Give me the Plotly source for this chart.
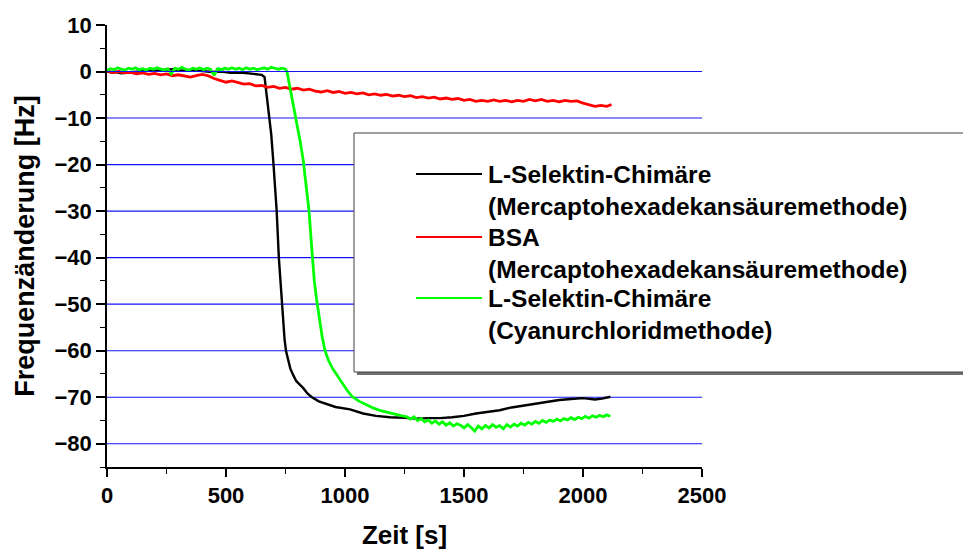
import plotly.graph_objects as go

# --- Frequenzänderung über Zeit, drei Messreihen ---

# L-Selektin-Chimäre (Mercaptohexadekansäuremethode)
t_black = [0, 20, 40, 60, 80, 100, 130, 160, 200, 240, 280, 320, 360, 400, 440, 480,
           520, 560, 600, 630, 650, 662, 670, 680, 690, 699, 705, 713, 722, 729, 735,
           740, 746, 752, 760, 770, 782, 795, 810, 824, 842, 861, 890, 924, 960, 1021,
           1076, 1130, 1189, 1250, 1300, 1350, 1400, 1450, 1500, 1550, 1600, 1650, 1700,
           1750, 1800, 1850, 1900, 1950, 2000, 2050, 2080, 2115]
f_black = [0.0, -0.2, -0.1, -0.4, -0.3, -0.2, -0.1, 0.2, 0.1, 0.4, 0.5, 0.2, 0.3, 0.1,
           -0.1, 0.0, -0.3, -0.2, -0.4, -0.5, -0.7, -1.2, -4.5, -8.8, -13.5, -19.5, -24.0,
           -30.0, -40.0, -45.0, -49.5, -54.0, -57.5, -60.0, -62.0, -63.8, -65.2, -66.5,
           -67.3, -68.0, -69.2, -70.0, -70.9, -71.5, -72.1, -72.6, -73.5, -74.0, -74.3,
           -74.4, -74.6, -74.5, -74.5, -74.3, -74.0, -73.5, -73.2, -72.8, -72.2, -71.8,
           -71.5, -71.0, -70.6, -70.4, -70.2, -70.5, -70.3, -69.9]

# BSA (Mercaptohexadekansäuremethode)
t_red = [0, 25, 50, 75, 100, 125, 150, 175, 200, 225, 250, 275, 300, 325, 350, 375, 400,
         425, 450, 475, 500, 525, 550, 575, 600, 625, 650, 675, 700, 725, 750, 775, 800,
         825, 850, 875, 900, 925, 950, 975, 1000, 1025, 1050, 1075, 1100, 1125, 1150,
         1175, 1200, 1225, 1250, 1275, 1300, 1325, 1350, 1375, 1400, 1425, 1450, 1475,
         1500, 1525, 1550, 1575, 1600, 1625, 1650, 1675, 1700, 1725, 1750, 1775, 1800,
         1825, 1850, 1875, 1900, 1925, 1950, 1975, 2000, 2025, 2050, 2075, 2100, 2120]
f_red = [0.1, -0.2, 0.0, -0.3, -0.2, -0.5, -0.3, -0.6, -0.4, -0.7, -0.5, -0.9, -0.7, -1.0,
         -1.2, -0.9, -0.6, -0.9, -1.5, -1.9, -2.3, -2.0, -2.3, -2.7, -2.6, -3.1, -3.0,
         -3.4, -3.2, -3.6, -3.4, -3.8, -3.6, -4.0, -3.8, -4.2, -4.4, -4.1, -4.5, -4.3,
         -4.7, -4.5, -4.8, -4.6, -5.0, -4.8, -5.1, -4.9, -5.3, -5.1, -5.4, -5.2, -5.6,
         -5.4, -5.7, -5.5, -5.9, -5.7, -6.0, -5.8, -6.2, -6.0, -6.4, -6.2, -6.4, -6.1,
         -6.4, -6.2, -6.5, -6.2, -6.4, -6.0, -6.3, -6.0, -6.4, -6.2, -6.5, -6.2, -6.4,
         -6.3, -6.8, -7.2, -7.5, -7.3, -7.5, -7.1]

# L-Selektin-Chimäre (Cyanurchloridmethode)
t_green = [0, 15, 30, 45, 60, 75, 90, 105, 120, 135, 150, 165, 180, 195, 210, 225, 240,
           255, 270, 285, 300, 315, 330, 345, 360, 375, 390, 405, 420, 435, 450, 465, 480,
           495, 510, 525, 540, 555, 570, 585, 600, 615, 630, 645, 660, 675, 690, 705, 720,
           735, 750,
           756, 764, 772, 780, 787, 795, 803, 811, 818, 825, 832, 840, 849, 856, 863, 871,
           882, 893, 904, 916, 930, 945, 966, 990, 1010, 1029, 1060, 1090, 1118, 1150,
           1180, 1210, 1240, 1260,
           1275, 1290, 1305, 1320, 1335, 1350, 1365, 1380, 1395, 1410, 1425, 1440, 1455,
           1470, 1485, 1500, 1515, 1530, 1545, 1560, 1575, 1590, 1605, 1620, 1635, 1650,
           1665, 1680, 1695, 1710, 1725, 1740, 1755, 1770, 1785, 1800, 1815, 1830, 1845,
           1860, 1875, 1890, 1905, 1920, 1935, 1950, 1965, 1980, 1995, 2010, 2025, 2040,
           2055, 2070, 2085, 2100, 2115]
f_green = [0.3, 0.6, 0.4, 0.8, 0.5, 0.3, 0.7, 0.5, 0.8, 0.4, 0.6, 0.3, 0.7, 0.5, 0.8, 0.5,
           0.3, 0.6, -0.5, 0.7, 0.5, 0.9, 0.5, 0.3, 0.7, 0.5, 0.8, 0.4, 0.7, 0.5, -0.8,
           0.6, 0.4, 0.7, 0.5, 0.8, 0.5, 0.7, 0.4, 0.8, 0.5, 0.7, 0.4, 0.6, 0.8, 0.5, 0.9,
           0.7, 0.5, 0.7, 0.5,
           0.0, -2.0, -4.0, -6.2, -8.4, -10.6, -12.4, -14.8, -17.0, -19.2, -22.5, -26.0,
           -30.0, -35.0, -40.0, -45.0, -49.5, -53.5, -57.0, -60.0, -62.0, -63.6, -65.3,
           -67.2, -68.6, -69.8, -70.9, -71.6, -72.3, -72.9, -73.3, -73.7, -74.0, -74.2,
           -74.7, -74.2, -75.0, -74.6, -75.3, -74.9, -75.6, -75.1, -75.8, -75.3, -76.0,
           -75.5, -76.2, -75.7, -76.0, -76.6, -75.9, -76.5, -77.3, -76.2, -76.8, -76.1,
           -76.6, -75.9, -76.5, -76.1, -76.8, -75.9, -76.4, -75.8, -76.2, -75.6, -76.0,
           -75.4, -75.8, -75.2, -75.6, -75.0, -75.4, -74.9, -75.2, -74.7, -75.1, -74.6,
           -74.9, -74.4, -74.8, -74.3, -74.6, -74.1, -74.5, -74.0, -74.3, -73.9, -74.2,
           -73.8, -74.1]

series_names = [
    "L-Selektin-Chimäre<br>(Mercaptohexadekansäuremethode)",
    "BSA<br>(Mercaptohexadekansäuremethode)",
    "L-Selektin-Chimäre<br>(Cyanurchloridmethode)",
]
series_colors = ["#000000", "#FF0000", "#00FF00"]
series_widths = [2.4, 2.8, 2.8]

x_ticks = [0, 500, 1000, 1500, 2000, 2500]
y_ticks = [10, 0, -10, -20, -30, -40, -50, -60, -70, -80]
grid_levels = [0, -10, -20, -30, -40, -50, -60, -70, -80]

FONT = "Liberation Sans, Arial, sans-serif"
W, H = 963, 550
L, R, T, B = 107, 261, 25, 83
PW, PH = W - L - R, H - T - B


def px(x):
    return (x - L) / PW


def py(y):
    return (H - B - y) / PH


fig = go.Figure()

for t, f, name, col, lw in zip([t_black, t_red, t_green], [f_black, f_red, f_green],
                               series_names, series_colors, series_widths):
    fig.add_trace(go.Scatter(x=t, y=f, mode="lines", name=name,
                             line=dict(color=col, width=lw), showlegend=False))

shapes = []
# blue horizontal grid lines (0 to -80); the zero line sits on top
for g in grid_levels:
    shapes.append(dict(type="line", xref="x", yref="y", x0=0, x1=2500, y0=g, y1=g,
                       line=dict(color="#1414F5", width=1.1),
                       layer="above" if g == 0 else "between"))

# legend frame with shadow
shapes.append(dict(type="rect", xref="paper", yref="paper",
                   x0=px(357), x1=px(975), y0=py(375), y1=py(136),
                   fillcolor="#707070", line=dict(width=0)))
shapes.append(dict(type="rect", xref="paper", yref="paper",
                   x0=px(354), x1=px(972), y0=py(372), y1=py(133),
                   fillcolor="white", line=dict(color="#404040", width=1)))

annotations = []
legend_rows = [174, 237, 298]
for row, name, col in zip(legend_rows, series_names, series_colors):
    shapes.append(dict(type="line", xref="paper", yref="paper",
                       x0=px(416), x1=px(482), y0=py(row), y1=py(row),
                       line=dict(color=col, width=2)))
    annotations.append(dict(xref="paper", yref="paper", x=px(486), y=py(row - 15),
                            text=name, showarrow=False, xanchor="left", yanchor="top",
                            align="left",
                            font=dict(family=FONT, size=24.5, color="black", weight="bold")))

fig.update_layout(
    template="none",
    width=W, height=H,
    margin=dict(l=L, r=R, t=T, b=B, autoexpand=False),
    paper_bgcolor="white", plot_bgcolor="white",
    shapes=shapes, annotations=annotations,
    font=dict(family=FONT, color="black"),
    xaxis=dict(
        range=[0, 2500], tickvals=x_ticks, showgrid=False,
        zeroline=False, zerolinecolor="rgba(0,0,0,0)",
        showline=True, linecolor="black", linewidth=1.5,
        ticks="outside", ticklen=8, tickwidth=1.5, tickcolor="black",
        minor=dict(ticks="outside", ticklen=5, dtick=250, tickcolor="black",
                   tickwidth=1.2, showgrid=False),
        tickfont=dict(family=FONT, size=22, color="black", weight="bold"),
        title=dict(text="Zeit [s]", standoff=20,
                   font=dict(family=FONT, size=26, color="black", weight="bold")),
    ),
    yaxis=dict(
        range=[-85, 10], tickvals=y_ticks, showgrid=False,
        zeroline=False, zerolinecolor="rgba(0,0,0,0)",
        showline=True, linecolor="black", linewidth=1.5,
        ticks="outside", ticklen=9, tickwidth=1.5, tickcolor="black",
        minor=dict(ticks="outside", ticklen=5, dtick=5, tickcolor="black",
                   tickwidth=1.2, showgrid=False),
        tickfont=dict(family=FONT, size=22, color="black", weight="bold"),
        title=dict(text="Frequenzänderung [Hz]", standoff=12,
                   font=dict(family=FONT, size=27, color="black", weight="bold")),
    ),
)

fig.write_html("out.html")
